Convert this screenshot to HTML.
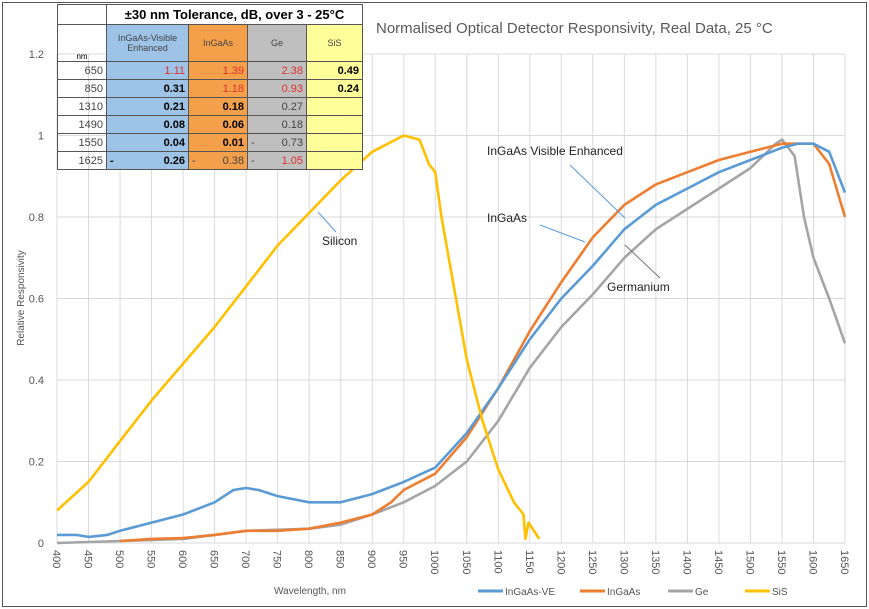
<!DOCTYPE html>
<html><head><style>
body{margin:0;background:#fff;}
#w{position:relative;width:869px;height:609px;overflow:hidden;font-family:"Liberation Sans",sans-serif;}
#frame{position:absolute;left:2px;top:2px;width:863px;height:603px;border:1px solid #555;}
table{position:absolute;left:57px;top:4px;border-collapse:collapse;font-size:11px;}
td{border:1px solid #555;padding:0 3px;height:17px;text-align:right;font-weight:bold;}
.b{background:#9dc3e6}.o{background:#f4a04a}.g{background:#bfbfbf}.y{background:#ffff99}
.r{color:#e03030;font-weight:normal}.n{font-weight:normal;color:#444}
</style></head><body><div id="w"><div id="frame"></div>
<svg id="s" width="869" height="609" style="position:absolute;left:0;top:0"></svg>
<table>
<tr><td style="border:1px solid #555;background:#fff"></td><td colspan="4" style="text-align:center;font-size:13px;height:19px;background:#fff">±30 nm Tolerance, dB, over 3 - 25°C</td></tr>
<tr style="height:37px"><td style="width:42px;font-size:8px;font-weight:normal;vertical-align:bottom;text-align:center">nm</td><td class="b" style="width:75px;text-align:center;font-weight:normal;font-size:9px;color:#444">InGaAs-Visible<br>Enhanced</td><td class="o" style="width:52px;text-align:center;font-weight:normal;font-size:9px;color:#444">InGaAs</td><td class="g" style="width:52px;text-align:center;font-weight:normal;font-size:9px;color:#444">Ge</td><td class="y" style="width:49px;text-align:center;font-weight:normal;font-size:9px;color:#444">SiS</td></tr>
<tr><td class="n">650</td><td class="b r">1.11</td><td class="o r">1.39</td><td class="g r">2.38</td><td class="y">0.49</td></tr>
<tr><td class="n">850</td><td class="b">0.31</td><td class="o r">1.18</td><td class="g r">0.93</td><td class="y">0.24</td></tr>
<tr><td class="n">1310</td><td class="b">0.21</td><td class="o">0.18</td><td class="g n">0.27</td><td class="y"></td></tr>
<tr><td class="n">1490</td><td class="b">0.08</td><td class="o">0.06</td><td class="g n">0.18</td><td class="y"></td></tr>
<tr><td class="n">1550</td><td class="b">0.04</td><td class="o">0.01</td><td class="g n"><span style="float:left">-</span>0.73</td><td class="y"></td></tr>
<tr><td class="n">1625</td><td class="b"><span style="float:left">-</span>0.26</td><td class="o n"><span style="float:left">-</span>0.38</td><td class="g r"><span style="float:left;color:#444">-</span>1.05</td><td class="y"></td></tr>
</table>
</div>
<script>
var X=n=>57+(n-400)*0.6304, Y=v=>543-v*407.5;
var h='';
for(var n=400;n<=1650;n+=50){h+=`<line x1="${X(n)}" y1="${Y(1.2)}" x2="${X(n)}" y2="543" stroke="#d9d9d9"/>`;
h+=`<text transform="translate(${X(n)-4},550) rotate(90)" font-size="11" fill="#555">${n}</text>`;}
for(var i=0;i<=6;i++){var v=i*0.2;h+=`<line x1="57" y1="${Y(v)}" x2="845" y2="${Y(v)}" stroke="#d9d9d9"/>`;
h+=`<text x="44" y="${Y(v)+4}" font-size="11" fill="#555" text-anchor="end">${i==0?'0':i==5?'1':v.toFixed(1)}</text>`;}
function P(d,c){var p=[];for(var i=0;i<d.length;i+=2)p.push(X(d[i]).toFixed(1)+','+Y(d[i+1]).toFixed(1));return `<polyline points="${p.join(' ')}" fill="none" stroke="${c}" stroke-width="2.6" stroke-linejoin="round"/>`;}
h+=P([400,0,500,0.005,600,0.01,650,0.02,700,0.03,800,0.035,850,0.045,900,0.07,950,0.1,1000,0.14,1050,0.2,1100,0.3,1150,0.43,1200,0.53,1250,0.61,1300,0.7,1350,0.77,1400,0.82,1450,0.87,1500,0.92,1540,0.98,1550,0.99,1570,0.95,1585,0.8,1600,0.7,1625,0.6,1650,0.49],'#a5a5a5');
h+=P([500,0.005,550,0.01,600,0.012,650,0.02,700,0.03,750,0.03,800,0.035,850,0.05,900,0.07,930,0.1,950,0.13,1000,0.17,1050,0.26,1100,0.38,1150,0.52,1200,0.64,1250,0.75,1300,0.83,1350,0.88,1400,0.91,1450,0.94,1500,0.96,1550,0.98,1600,0.98,1625,0.93,1650,0.8],'#ed7d31');
h+=P([400,0.02,430,0.02,450,0.015,480,0.02,500,0.03,550,0.05,600,0.07,650,0.1,680,0.13,700,0.135,720,0.13,750,0.115,800,0.1,850,0.1,900,0.12,950,0.15,1000,0.185,1050,0.27,1100,0.38,1150,0.5,1200,0.6,1250,0.68,1300,0.77,1350,0.83,1400,0.87,1450,0.91,1500,0.94,1550,0.97,1575,0.98,1600,0.98,1625,0.96,1650,0.86],'#5b9bd5');
h+=P([400,0.08,450,0.15,500,0.25,550,0.35,600,0.44,650,0.53,700,0.63,750,0.73,800,0.81,850,0.89,900,0.96,950,1.0,975,0.99,990,0.93,1000,0.91,1010,0.8,1050,0.45,1075,0.3,1100,0.18,1125,0.1,1140,0.07,1143,0.01,1148,0.05,1165,0.01],'#ffc000');
h+=`<line x1="570" y1="165" x2="625" y2="218" stroke="#5b9bd5"/><line x1="540" y1="225" x2="585" y2="242" stroke="#5b9bd5"/><line x1="660" y1="278" x2="625" y2="245" stroke="#777"/><line x1="336" y1="232" x2="318" y2="212" stroke="#5b9bd5"/>`;
h+=`<g font-size="12" fill="#222"><text x="487" y="155">InGaAs Visible Enhanced</text><text x="487" y="222">InGaAs</text><text x="607" y="291">Germanium</text><text x="322" y="245">Silicon</text></g>`;
h+=`<text x="376" y="33" font-size="15" fill="#595959">Normalised Optical Detector Responsivity, Real Data, 25 °C</text>`;
h+=`<text transform="translate(24,298) rotate(-90)" font-size="10" fill="#555" text-anchor="middle">Relative Responsivity</text>`;
h+=`<text x="310" y="594" font-size="10" fill="#555" text-anchor="middle">Wavelength, nm</text>`;
var L=[['InGaAs-VE','#5b9bd5',478],['InGaAs','#ed7d31',580],['Ge','#a5a5a5',668],['SiS','#ffc000',745]];
L.forEach(l=>{h+=`<line x1="${l[2]}" y1="591" x2="${l[2]+25}" y2="591" stroke="${l[1]}" stroke-width="3"/><text x="${l[2]+27}" y="595" font-size="10" fill="#555">${l[0]}</text>`;});
document.getElementById('s').innerHTML=h;
</script>
</body></html>
